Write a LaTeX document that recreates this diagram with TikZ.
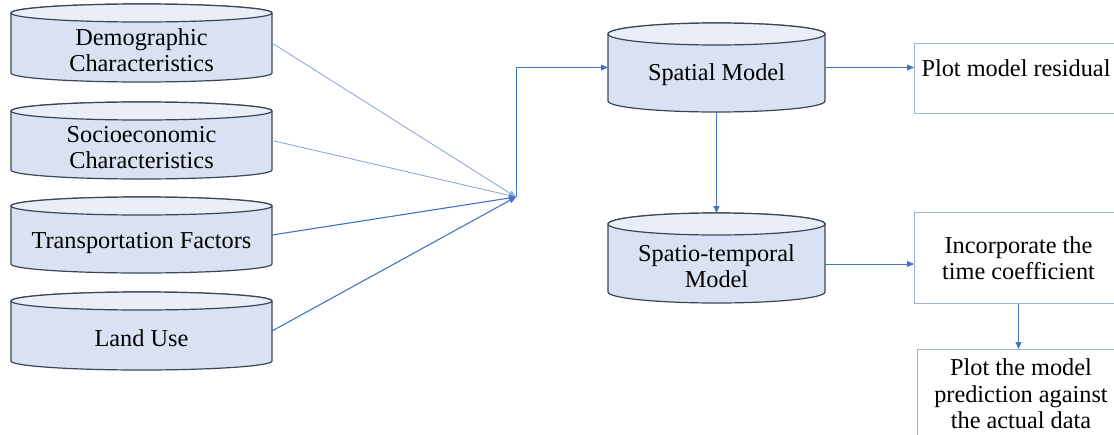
\documentclass[tikz,border=0pt]{standalone}
\usepackage{fontspec}
\setmainfont{Liberation Serif}
\newfontfamily\tnrfont{Liberation Serif}
\usetikzlibrary{arrows.meta,calc}
\definecolor{cylfill}{HTML}{D9E2F3}
\definecolor{cyltop}{HTML}{E9EEF8}
\definecolor{cylline}{HTML}{3A4656}
\definecolor{conn}{HTML}{4472C4}
\definecolor{connlight}{HTML}{8EA9DB}
\definecolor{boxline}{HTML}{9DB4E0}
\tikzset{
  cylbox/.style={draw=none,inner sep=0pt,outer sep=0pt},
  cylstyle/.style={draw=cylline,line width=1.2pt,fill=cylfill},
  txt/.style={align=center,font=\tnrfont\fontsize{24.3}{26.5}\selectfont,inner sep=0pt,text=black},
  outbox/.style={draw=boxline,line width=1pt,fill=white,inner sep=0pt},
  tip/.style={-{Triangle[length=7pt,width=6pt]}},
  lconn/.style={draw=connlight,line width=0.9pt,tip},
  dconn/.style={draw=conn,line width=1.1pt,tip},
}
\newcommand\drawcyl[2]{%
  \draw[cylstyle] let \p1=(#1.north west), \p2=(#1.south east), \n1={(\x2-\x1)/2} in
    (\x1,\y1-#2) -- (\x1,\y2+#2)
    arc[start angle=180,end angle=360,x radius=\n1,y radius=#2]
    -- (\x2,\y1-#2)
    arc[start angle=0,end angle=180,x radius=\n1,y radius=#2] -- cycle;
  \draw[cylstyle,fill=cyltop] let \p1=(#1.north west), \p2=(#1.south east), \n1={(\x2-\x1)/2} in
    (\x1,\y1-#2) arc[start angle=180,end angle=-180,x radius=\n1,y radius=#2] -- cycle;
}
\begin{document}
\begin{tikzpicture}[x=1pt,y=1pt]
\useasboundingbox (0,0) rectangle (1114,-434);
\clip (0,0) rectangle (1114,-434);

% left cylinders
\node[cylbox,minimum width=261pt,minimum height=78pt] (demo) at (141.5,-43) {};
\drawcyl{demo}{9pt}
\node[txt] (demo-t) at ($(demo.center)+(0,-7)$) {Demographic\\Characteristics};

\node[cylbox,minimum width=261pt,minimum height=77pt] (socio) at (141.5,-140.5) {};
\drawcyl{socio}{9pt}
\node[txt] (socio-t) at ($(socio.center)+(0,-7)$) {Socioeconomic\\Characteristics};

\node[cylbox,minimum width=261pt,minimum height=76pt] (trans) at (141.5,-235) {};
\drawcyl{trans}{9pt}
\node[txt] (trans-t) at ($(trans.center)+(0,-8)$) {Transportation Factors};

\node[cylbox,minimum width=261pt,minimum height=78pt] (land) at (141.5,-331) {};
\drawcyl{land}{9pt}
\node[txt] (land-t) at ($(land.center)+(0,-7)$) {Land Use};

% models
\node[cylbox,minimum width=217pt,minimum height=89pt] (spatial) at (716.5,-67.5) {};
\drawcyl{spatial}{11pt}
\node[txt] (spatial-t) at ($(spatial.center)+(0,-7)$) {Spatial Model};

\node[cylbox,minimum width=217pt,minimum height=90pt] (spatio) at (716.5,-258) {};
\drawcyl{spatio}{11pt}
\node[txt] (spatio-t) at ($(spatio.center)+(0,-8)$) {Spatio-temporal\\Model};

% output boxes
\node[outbox,anchor=north west,minimum width=208pt,minimum height=70pt] (resid) at (914,-43) {};
\node[txt] (resid-t) at (1016,-68) {Plot model residual};

\node[outbox,anchor=north west,minimum width=208pt,minimum height=91pt] (inc) at (914,-212) {};
\node[txt] (inc-t) at (inc.center) {Incorporate the\\time coefficient};

\node[outbox,anchor=north west,minimum width=205pt,minimum height=100pt] (pred) at (917,-349) {};
\node[txt] (pred-t) at (1021,-394) {Plot the model\\prediction against\\the actual data};

% connectors
\coordinate (J) at (516,-197);
\draw[lconn] (demo.east) -- (J);
\draw[lconn] (socio.east) -- (J);
\draw[dconn] (trans.east) -- (J);
\draw[dconn] (land.east) -- (J);
\draw[lconn,draw=conn] (J) |- (spatial.west);
\draw[lconn,draw=conn] (spatial.south) -- (spatio.north);
\draw[lconn,draw=conn] (spatial.east) -- (spatial.east -| resid.west);
\draw[lconn,draw=conn] ([yshift=-6pt]spatio.east) -- ([yshift=-6pt]spatio.east -| inc.west);
\draw[lconn,draw=conn] (inc.south) -- (inc.south |- pred.north);
\end{tikzpicture}
\end{document}
